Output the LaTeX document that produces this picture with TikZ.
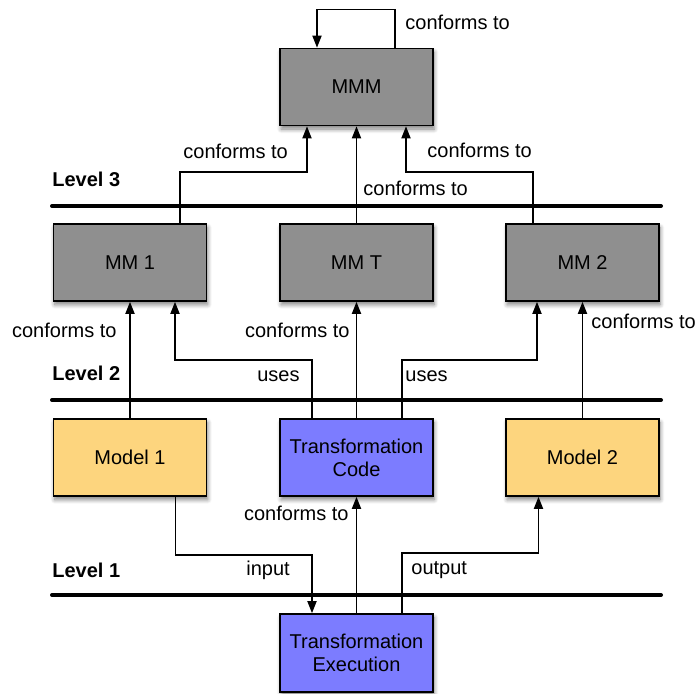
\documentclass[tikz,border=0pt]{standalone}
\usepackage{fontspec}
\setmainfont{Liberation Sans}
\usetikzlibrary{arrows.meta,shadows.blur}
\definecolor{mmgray}{RGB}{143,143,143}
\definecolor{modelyellow}{RGB}{253,213,126}
\definecolor{codeblue}{RGB}{124,124,255}
\tikzset{
  box/.style={draw, line width=0.9pt, minimum width=76.5pt, minimum height=38.5pt, align=center,
    blur shadow={shadow xshift=0.6pt, shadow yshift=-1.8pt, shadow blur steps=6, shadow opacity=50}},
  conn/.style={line width=0.65pt, -{Triangle[length=6pt,width=4.6pt]}},
  lbl/.style={inner sep=0pt},
  levelline/.style={line width=2pt, line cap=round}
}
\begin{document}
\begin{tikzpicture}[x=0.5pt, y=-0.5pt, font=\fontsize{10}{11.5}\selectfont]
\useasboundingbox (0,0) rectangle (696,693);
% levels
\draw[levelline] (52,206) -- (661,206);
\draw[levelline] (52,400) -- (661,400);
\draw[levelline] (52,595) -- (661,595);
\node[lbl, anchor=west, font=\fontsize{10}{11.5}\selectfont\bfseries] (lvlthree) at (52,179) {Level 3};
\node[lbl, anchor=west, font=\fontsize{10}{11.5}\selectfont\bfseries] (lvltwo) at (52,373) {Level 2};
\node[lbl, anchor=west, font=\fontsize{10}{11.5}\selectfont\bfseries] (lvlone) at (52,570) {Level 1};
% boxes
\node[box, fill=mmgray] (mmm) at (356.5,87) {MMM};
\node[box, fill=mmgray] (mmone) at (130,262.5) {MM 1};
\node[box, fill=mmgray] (mmt) at (356.5,262.5) {MM T};
\node[box, fill=mmgray] (mmtwo) at (582.5,262.5) {MM 2};
\node[box, fill=modelyellow] (modelone) at (130,457.5) {Model 1};
\node[box, fill=codeblue] (tcode) at (356.5,457.5) {Transformation\\Code};
\node[box, fill=modelyellow] (modeltwo) at (582.5,457.5) {Model 2};
\node[box, fill=codeblue, minimum height=39pt] (texec) at (356.5,653) {Transformation\\Execution};
% conforms to
\draw[conn] ([xshift=19.25pt]mmm.north) -- ++(0,-38) -| ([xshift=-19.75pt]mmm.north);
\draw[conn] ([xshift=25pt]mmone.north) -- ++(0,-51) -| ([xshift=-24.75pt]mmm.south);
\draw[conn] (mmt.north) -- (mmm.south);
\draw[conn] ([xshift=-24.75pt]mmtwo.north) -- ++(0,-51) -| ([xshift=24.75pt]mmm.south);
\draw[conn] (modelone.north) -- (mmone.south);
\draw[conn] (tcode.north) -- (mmt.south);
\draw[conn] (modeltwo.north) -- (mmtwo.south);
\draw[conn] (texec.north) -- (tcode.south);
% uses
\draw[conn] ([xshift=-22.25pt]tcode.north) -- ++(0,-58) -| ([xshift=22.5pt]mmone.south);
\draw[conn] ([xshift=22.75pt]tcode.north) -- ++(0,-58) -| ([xshift=-22.75pt]mmtwo.south);
% input / output
\draw[conn] ([xshift=22.75pt]modelone.south) -- ++(0,58) -| ([xshift=-22.25pt]texec.north);
\draw[conn] ([xshift=22.75pt]texec.north) -- ++(0,-60) -| ([xshift=-22pt]modeltwo.south);
% labels
\node[lbl, anchor=west] (cfloop) at (405,22) {conforms to};
\node[lbl, anchor=west] (cfmmone) at (183,151) {conforms to};
\node[lbl, anchor=west] (cfmmt) at (363,188) {conforms to};
\node[lbl, anchor=west] (cfmmtwo) at (427,150) {conforms to};
\node[lbl, anchor=east] (cfmodelone) at (117,330) {conforms to};
\node[lbl, anchor=east] (cftcode) at (350,330) {conforms to};
\node[lbl, anchor=west] (cfmodeltwo) at (591,321) {conforms to};
\node[lbl, anchor=east] (cftexec) at (349,513) {conforms to};
\node[lbl, anchor=east] (usesone) at (300,376) {uses};
\node[lbl, anchor=west] (usestwo) at (405,376) {uses};
\node[lbl, anchor=west] (inlbl) at (246,570) {input};
\node[lbl, anchor=west] (outlbl) at (411,570) {output};
\end{tikzpicture}
\end{document}
